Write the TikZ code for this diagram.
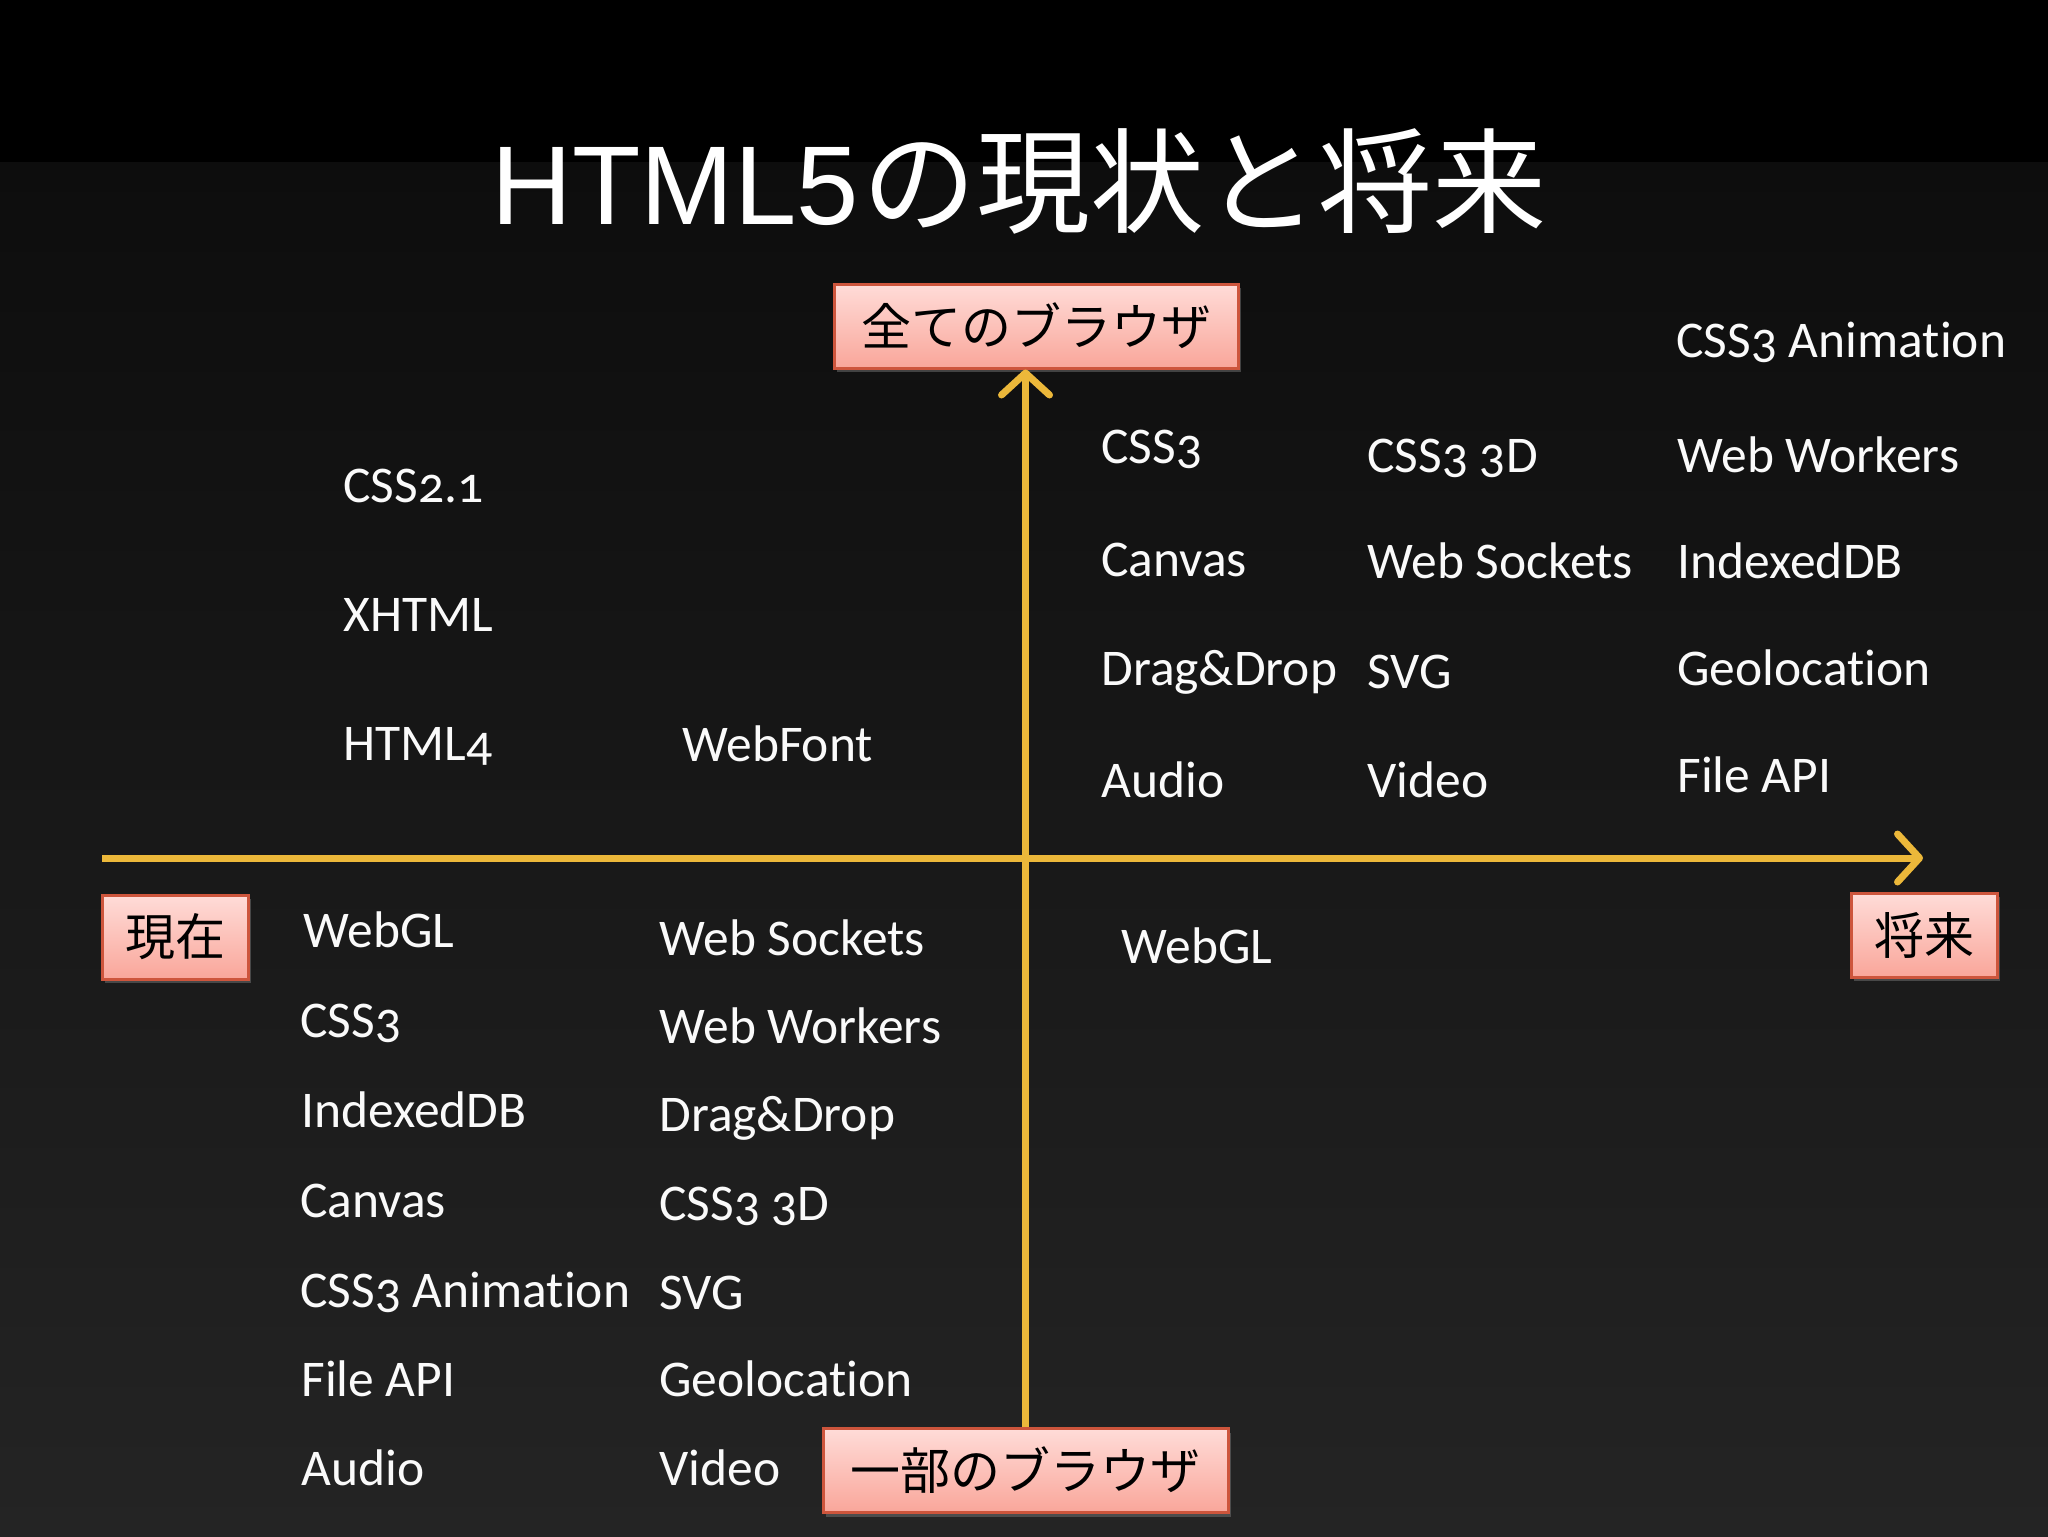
\documentclass[tikz,border=0pt]{standalone}
\usepackage{fontspec}
\setmainfont{Carlito}[Numbers=OldStyle, Ligatures={NoCommon}]
\newfontfamily\titlelatin{Liberation Sans}
\newfontfamily\cjk{Noto Sans CJK JP}
\usetikzlibrary{arrows.meta,shadows}
\definecolor{axisgold}{RGB}{236,184,58}
\definecolor{boxtop}{RGB}{255,220,216}
\definecolor{boxbot}{RGB}{249,166,154}
\definecolor{boxedge}{RGB}{205,85,60}
\definecolor{bgtop}{RGB}{13,13,13}
\definecolor{bgbot}{RGB}{36,36,36}
\definecolor{txt}{RGB}{250,250,250}
\tikzset{
  lbl/.style={anchor=base west, inner sep=0pt, text=txt,
    font=\fontsize{25.75pt}{30pt}\selectfont},
  tagbox/.style={rectangle, inner sep=0pt, minimum height=42pt,
    top color=boxtop, bottom color=boxbot, draw=boxedge, line width=1.5pt,
    drop shadow={shadow xshift=1.5pt, shadow yshift=-2pt, opacity=0.45},
    text=black, font=\cjk\fontsize{25pt}{30pt}\selectfont},
  axisline/.style={draw=axisgold, line width=3.5pt,
    -{Straight Barb[length=11pt,width=24pt,line cap=round,line join=round]}},
}
\begin{document}
\begin{tikzpicture}[x=0.5pt,y=-0.5pt]
\useasboundingbox (0,0) rectangle (2048,1536);
% background
\shade[top color=bgtop, bottom color=bgbot] (0,162) rectangle (2048,1536);
\fill[black] (0,0) rectangle (2048,162);

% title
\node[anchor=base west, inner sep=0pt, text=white] (title) at (491,224)
  {{\titlelatin\fontsize{56pt}{60pt}\selectfont HTML5}\kern2pt{\cjk\fontsize{57pt}{60pt}\selectfont の現状と将来}};

% tag boxes
\node[tagbox, minimum width=202pt] (all) at (1036,326) {全てのブラウザ};
\node[tagbox, minimum width=73pt] (now) at (175,937) {現在};
\node[tagbox, minimum width=73pt] (future) at (1924,935) {将来};
\node[tagbox, minimum width=202.5pt] (some) at (1025.5,1470.5) {一部のブラウザ};

% axes
\coordinate (hstart) at (102,858);
\coordinate (hend) at (1923,858);
\draw[axisline] (hstart) -- (hend);
\draw[axisline] (some.north) -- (some.north |- all.south);

% upper left quadrant
\node[lbl] (ul1) at (343,502) {CSS2.1};
\node[lbl] (ul2) at (343,631) {XHTML};
\node[lbl] (ul3) at (343,760) {HTML4};
\node[lbl] (ul4) at (682,761) {WebFont};

% upper right quadrant
\node[lbl] (ur0) at (1676,357) {CSS3 Animation};
\node[lbl] (ur1) at (1101,463) {CSS3};
\node[lbl] (ur2) at (1367,472) {CSS3 3D};
\node[lbl] (ur3) at (1677,472) {Web Workers};
\node[lbl] (ur4) at (1101,576) {Canvas};
\node[lbl] (ur5) at (1367,578) {Web Sockets};
\node[lbl] (ur6) at (1677,578) {IndexedDB};
\node[lbl] (ur7) at (1101,685) {Drag\&Drop};
\node[lbl] (ur8) at (1367,688) {SVG};
\node[lbl] (ur9) at (1677,685) {Geolocation};
\node[lbl] (ur10) at (1101,797) {Audio};
\node[lbl] (ur11) at (1367,797) {Video};
\node[lbl] (ur12) at (1677,792) {File API};

% lower right quadrant
\node[lbl] (lr1) at (1121,963) {WebGL};

% lower left quadrant, column 1
\node[lbl] (la1) at (303,947) {WebGL};
\node[lbl] (la2) at (300,1037) {CSS3};
\node[lbl] (la3) at (301,1127) {IndexedDB};
\node[lbl] (la4) at (300,1217) {Canvas};
\node[lbl] (la5) at (300,1307) {CSS3 Animation};
\node[lbl] (la6) at (301,1396) {File API};
\node[lbl] (la7) at (301,1485) {Audio};
% column 2
\node[lbl] (lb1) at (659,955) {Web Sockets};
\node[lbl] (lb2) at (659,1043) {Web Workers};
\node[lbl] (lb3) at (659,1131) {Drag\&Drop};
\node[lbl] (lb4) at (659,1220) {CSS3 3D};
\node[lbl] (lb5) at (659,1309) {SVG};
\node[lbl] (lb6) at (659,1396) {Geolocation};
\node[lbl] (lb7) at (659,1485) {Video};
\end{tikzpicture}
\end{document}
